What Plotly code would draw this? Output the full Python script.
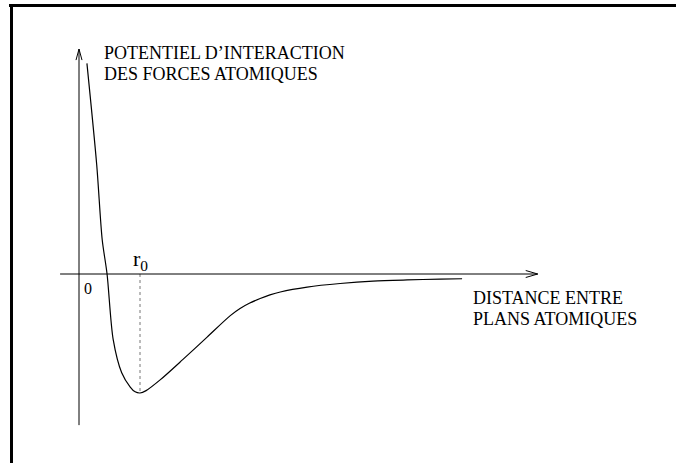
import plotly.graph_objects as go

W, H = 676, 463

# interatomic distance (in units of r0) and potential (in units of the well depth)
r = [0.13, 0.29, 0.38, 0.46, 0.56, 0.70, 0.84, 0.92, 1.00, 1.10, 1.33, 1.70, 2.10, 2.48, 2.64, 2.80, 2.97, 3.13, 3.30, 3.74, 4.28, 4.82, 5.38, 5.92, 6.28]
u = [1.77, 0.92, 0.29, 0.00, -0.55, -0.83, -0.95, -0.99, -1.00, -0.98, -0.89, -0.72, -0.53, -0.35, -0.29, -0.244, -0.206, -0.176, -0.151, -0.11, -0.08, -0.06, -0.05, -0.043, -0.04]

r0 = 1.0
u_min = -1.0

# extent of the drawn axes
x_axis = [-0.31, 7.52]
y_axis = [-1.27, 1.89]

y_label = ["POTENTIEL D\u2019INTERACTION", "DES FORCES ATOMIQUES"]
x_label = ["DISTANCE ENTRE", "PLANS ATOMIQUES"]

serif = "Liberation Serif, Times New Roman, serif"

fig = go.Figure()

fig.add_trace(go.Scatter(x=r, y=u, mode="lines",
                         line=dict(color="black", width=1.2, shape="spline", smoothing=0.8),
                         hoverinfo="skip"))
fig.add_trace(go.Scatter(x=[r0, r0], y=[0, u_min], mode="lines",
                         line=dict(color="#777777", width=1, dash="3px,3px"),
                         hoverinfo="skip"))

shapes = [
    # axes
    dict(type="line", xref="x", yref="y", x0=x_axis[0], x1=x_axis[1], y0=0, y1=0,
         line=dict(color="black", width=1)),
    dict(type="line", xref="x", yref="y", x0=0, x1=0, y0=y_axis[0], y1=y_axis[1],
         line=dict(color="black", width=1)),
    # open arrow heads
    dict(type="path", xref="x", yref="y", xsizemode="pixel", ysizemode="pixel",
         xanchor=x_axis[1], yanchor=0, path="M-12,3.5 L0,0 L-12,-3.5",
         line=dict(color="black", width=1)),
    dict(type="path", xref="x", yref="y", xsizemode="pixel", ysizemode="pixel",
         xanchor=0, yanchor=y_axis[1], path="M-3,-11 L0,0 L3,-11",
         line=dict(color="black", width=1)),
    # frame
    dict(type="line", xref="paper", yref="paper", x0=9 / W, x1=1, y0=1 - 5.5 / H, y1=1 - 5.5 / H,
         line=dict(color="black", width=3)),
    dict(type="line", xref="paper", yref="paper", x0=11.5 / W, x1=11.5 / W, y0=0, y1=1 - 4 / H,
         line=dict(color="black", width=3)),
]

ann = []
for i, t in enumerate(y_label):
    ann.append(dict(text=t, xref="paper", yref="paper", x=102 / W, y=1 - (53 + 20.5 * i) / H,
                    xanchor="left", yanchor="middle", showarrow=False,
                    font=dict(family=serif, size=18, color="black")))
for i, t in enumerate(x_label):
    ann.append(dict(text=t, xref="paper", yref="paper", x=471 / W, y=1 - (297.5 + 21 * i) / H,
                    xanchor="left", yanchor="middle", showarrow=False,
                    font=dict(family=serif, size=18, color="black")))
ann.append(dict(text="r<sub>0</sub>", x=r0, y=0, xref="x", yref="y", yshift=14,
                showarrow=False, font=dict(family=serif, size=22, color="black")))
ann.append(dict(text="0", x=0, y=0, xref="x", yref="y", xshift=9, yshift=-14,
                showarrow=False, font=dict(family=serif, size=16, color="black")))

fig.update_layout(
    width=W, height=H,
    margin=dict(l=0, r=0, t=0, b=0),
    paper_bgcolor="white", plot_bgcolor="white",
    showlegend=False,
    shapes=shapes,
    annotations=ann,
    xaxis=dict(range=[-79 / 61, (W - 79) / 61], visible=False, fixedrange=True),
    yaxis=dict(range=[(274 - H) / 119, 274 / 119], visible=False, fixedrange=True),
)

# no page margin or scrollbars, so the figure sits flush with the window
fig.write_html("out.html", config={"displayModeBar": False},
               post_script="document.body.style.margin='0px';"
                           "document.body.style.overflow='hidden';"
                           "document.documentElement.style.overflow='hidden';")
